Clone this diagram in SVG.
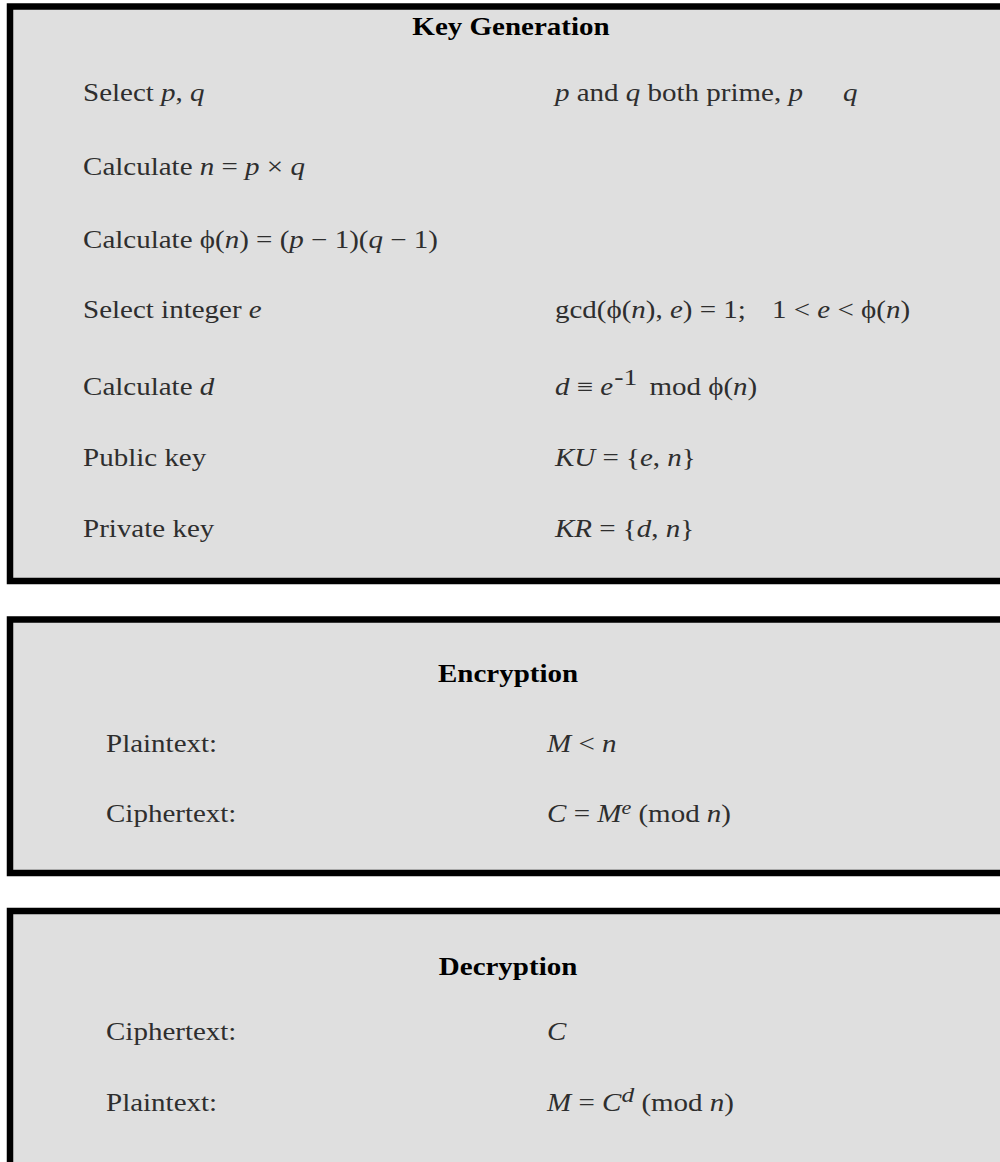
<svg xmlns="http://www.w3.org/2000/svg" width="1000" height="1162" viewBox="0 0 1000 1162">
<style>
.box{fill:#dfdfdf;stroke:#000;stroke-width:6.5}
.t{font-family:"Liberation Serif","Times New Roman",serif;font-size:25px;fill:#2e2e2e}
.h{font-family:"Liberation Serif","Times New Roman",serif;font-size:25px;font-weight:bold;fill:#000;text-anchor:middle}
.i{font-style:italic}
</style>
<rect width="1000" height="1162" fill="#fff"/>
<g id="keygen">
<rect class="box" x="10" y="6.5" width="1010" height="574.5"/>
<g transform="scale(1.16 1)">
<text class="h" x="440.5" y="35">Key Generation</text>
<text class="t" x="71.6" y="101">Select <tspan class="i">p</tspan>, <tspan class="i">q</tspan></text>
<text class="t" x="478.4" y="101"><tspan class="i">p</tspan> and <tspan class="i">q</tspan> both prime, <tspan class="i">p</tspan><tspan class="i" x="726.7">q</tspan></text>
<text class="t" x="71.6" y="175">Calculate <tspan class="i">n</tspan> = <tspan class="i">p</tspan> × <tspan class="i">q</tspan></text>
<text class="t" x="71.6" y="248">Calculate ϕ(<tspan class="i">n</tspan>) = (<tspan class="i">p</tspan> − 1)(<tspan class="i">q</tspan> − 1)</text>
<text class="t" x="71.6" y="318">Select integer <tspan class="i">e</tspan></text>
<text class="t" x="478.4" y="318">gcd(ϕ(<tspan class="i">n</tspan>), <tspan class="i">e</tspan>) = 1;<tspan x="665.5">1 &lt; </tspan><tspan class="i">e</tspan> &lt; ϕ(<tspan class="i">n</tspan>)</text>
<text class="t" x="71.6" y="395">Calculate <tspan class="i">d</tspan></text>
<text class="t" x="478.4" y="395"><tspan class="i">d</tspan> ≡ <tspan class="i">e</tspan><tspan dy="-10" dx="1" font-size="24">-1</tspan><tspan dy="10" dx="4"> mod ϕ(</tspan><tspan class="i">n</tspan>)</text>
<text class="t" x="71.6" y="466">Public key</text>
<text class="t" x="478.4" y="466"><tspan class="i">KU</tspan> = {<tspan class="i">e</tspan>, <tspan class="i">n</tspan>}</text>
<text class="t" x="71.6" y="537">Private key</text>
<text class="t" x="478.4" y="537"><tspan class="i">KR</tspan> = {<tspan class="i">d</tspan>, <tspan class="i">n</tspan>}</text>
</g>
</g>
<g id="encryption">
<rect class="box" x="10" y="619.5" width="1010" height="253.5"/>
<g transform="scale(1.16 1)">
<text class="h" x="438" y="682">Encryption</text>
<text class="t" x="91.4" y="752">Plaintext:</text>
<text class="t" x="471.6" y="752"><tspan class="i">M</tspan> &lt; <tspan class="i">n</tspan></text>
<text class="t" x="91.4" y="822">Ciphertext:</text>
<text class="t" x="471.6" y="822"><tspan class="i">C</tspan> = <tspan class="i">M</tspan><tspan class="i" dy="-8" font-size="19">e</tspan><tspan dy="8"> (mod </tspan><tspan class="i">n</tspan>)</text>
</g>
</g>
<g id="decryption">
<rect class="box" x="10" y="911" width="1010" height="300"/>
<g transform="scale(1.16 1)">
<text class="h" x="438" y="975">Decryption</text>
<text class="t" x="91.4" y="1040">Ciphertext:</text>
<text class="t" x="471.6" y="1040"><tspan class="i">C</tspan></text>
<text class="t" x="91.4" y="1111">Plaintext:</text>
<text class="t" x="471.6" y="1111"><tspan class="i">M</tspan> = <tspan class="i">C</tspan><tspan class="i" dy="-9" font-size="22">d</tspan><tspan dy="9"> (mod </tspan><tspan class="i">n</tspan>)</text>
</g>
</g>
<g id="connectors"/>
</svg>
